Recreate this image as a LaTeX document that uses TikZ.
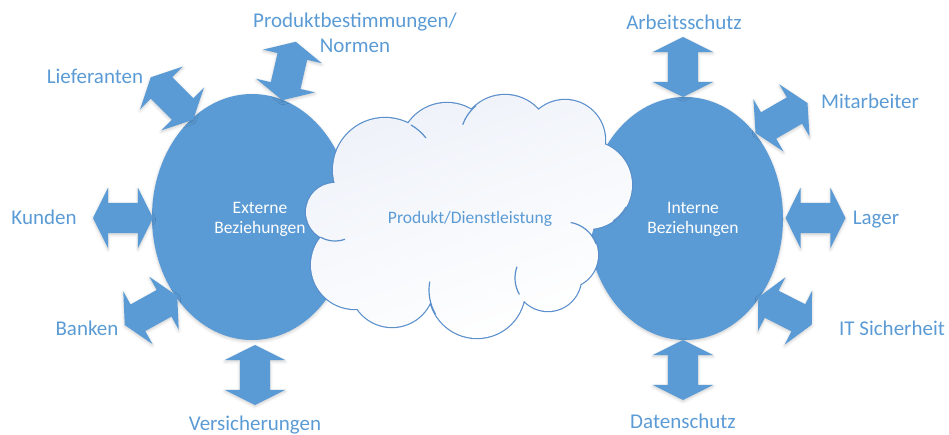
\documentclass[tikz,border=0pt]{standalone}
\usepackage{fontspec}
\setmainfont{Carlito}
\usetikzlibrary{shapes.geometric, shapes.arrows, shadows.blur}
\definecolor{officeblue}{HTML}{5B9BD5}
\definecolor{cloudedge}{HTML}{5A8FCB}
\definecolor{cloudtop}{HTML}{EEF2F9}
\newcommand{\cloudpuffs}{(385,170) circle[radius=52] (335,212) circle[radius=29]
  (355,265) circle[radius=44] (392,285) circle[radius=42] (477,290) circle[radius=48]
  (548,278) circle[radius=33] (565,255) circle[radius=33] (588,185) circle[radius=44]
  (565,140) circle[radius=40] (505,140) circle[radius=45] (447,150) circle[radius=47]}

\begin{document}
\begin{tikzpicture}[x=1pt,y=-1pt,
    blob/.style={ellipse,fill=officeblue,draw=none,inner sep=0pt,
      blur shadow={shadow xshift=0pt,shadow yshift=-1.5pt,shadow blur radius=3pt,shadow opacity=20}},
    twoway/.style={double arrow,fill=officeblue,draw=none,minimum height=60pt,
      inner xsep=0pt,inner ysep=15pt,double arrow head extend=15pt,double arrow tip angle=127,
      blur shadow={shadow xshift=0pt,shadow yshift=-1.5pt,shadow blur radius=3pt,shadow opacity=20}},
    lbl/.style={anchor=base,text=officeblue,font=\fontsize{21}{25}\selectfont,align=center},
    blobtext/.style={anchor=base,text=white,font=\fontsize{17.5}{20}\selectfont,align=center}]
  \useasboundingbox (0,0) rectangle (949,435);

  \node[blob,minimum width=200pt,minimum height=246pt] (ext) at (252,217) {};
  \node[blob,minimum width=196pt,minimum height=243pt] (int) at (685,218.5) {};

  % cloud: thick outline first, then the fill covers its inner half
  \draw[cloudedge,line width=2.4pt] \cloudpuffs;
  \shade[top color=cloudtop,bottom color=white,shading angle=20] \cloudpuffs
    (470,215) ellipse[x radius=125,y radius=85];
  \draw[cloudedge,line width=1.2pt] ([shift={(120:29)}]335,212) arc[start angle=120,end angle=70,radius=29];
  \draw[cloudedge,line width=1.2pt] ([shift={(-60:52)}]385,170) arc[start angle=-60,end angle=-38,radius=52];
  \draw[cloudedge,line width=1.2pt] ([shift={(190:48)}]477,290) arc[start angle=190,end angle=150,radius=48];
  \draw[cloudedge,line width=1.2pt] ([shift={(200:33)}]548,278) arc[start angle=200,end angle=150,radius=33];
  \draw[cloudedge,line width=1.2pt] ([shift={(-80:33)}]565,255) arc[start angle=-80,end angle=-20,radius=33];
  \draw[cloudedge,line width=1.2pt] ([shift={(55:44)}]588,185) arc[start angle=55,end angle=30,radius=44];
  \draw[cloudedge,line width=1.2pt] ([shift={(200:45)}]505,140) arc[start angle=200,end angle=230,radius=45];

  \node[twoway,rotate=-45] (lief) at (172,98.5) {};
  \node[twoway,rotate=77] (norm) at (289,71) {};
  \node[twoway] (kund) at (123,218) {};
  \node[twoway,rotate=29] (bank) at (151,310.5) {};
  \node[twoway,rotate=90] (vers) at (255,375) {};
  \node[twoway,rotate=90] (arb) at (683,67) {};
  \node[twoway,rotate=30] (mita) at (781.5,118) {};
  \node[twoway] (lag) at (815.5,218) {};
  \node[twoway,rotate=-27] (its) at (785,311) {};
  \node[twoway,rotate=90] (dat) at (683,370) {};

  \node[blobtext] (extlabel) at (260,234) {Externe\\Beziehungen};
  \node[blobtext] (intlabel) at (693,234) {Interne\\Beziehungen};
  \node[anchor=base,text=officeblue,font=\fontsize{17.5}{20}\selectfont] (prod) at (470,224) {Produkt/Dienstleistung};

  \node[lbl] (lieftext) at (95,84) {Lieferanten};
  \node[lbl] (normtext) at (355,53) {Produktbestimmungen/\\Normen};
  \node[lbl] (kundtext) at (44,225) {Kunden};
  \node[lbl] (banktext) at (87,335) {Banken};
  \node[lbl] (verstext) at (255,430) {Versicherungen};
  \node[lbl] (arbtext) at (684,30) {Arbeitsschutz};
  \node[lbl] (mitatext) at (870,109) {Mitarbeiter};
  \node[lbl] (lagtext) at (876,225) {Lager};
  \node[lbl] (itstext) at (892,335) {IT Sicherheit};
  \node[lbl] (dattext) at (683,428) {Datenschutz};
\end{tikzpicture}
\end{document}
